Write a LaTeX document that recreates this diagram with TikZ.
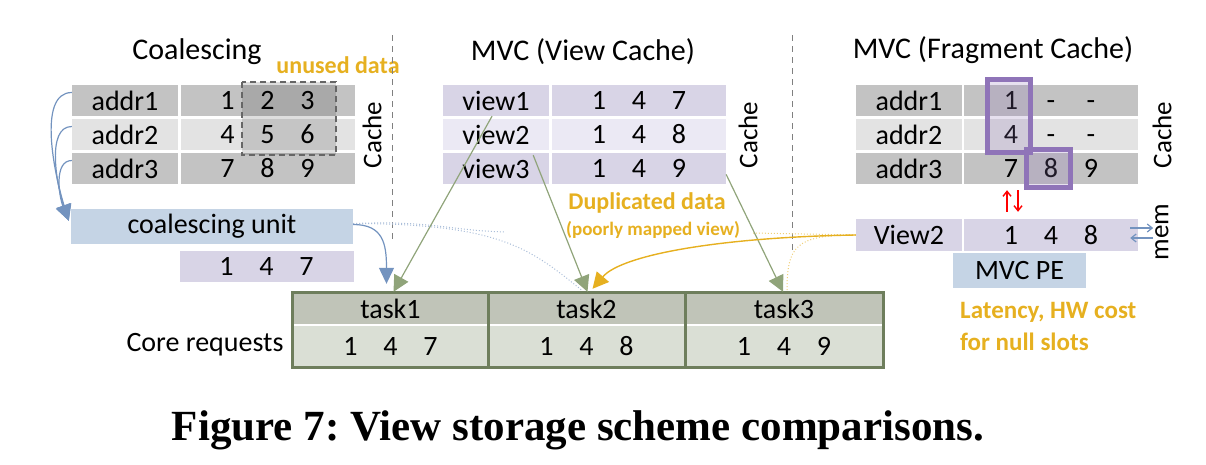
\documentclass[tikz,border=0pt]{standalone}
\usepackage{fontspec}
\setmainfont{Carlito}
\newfontfamily\capfont{Liberation Serif}
\usetikzlibrary{arrows.meta}
\frenchspacing

\definecolor{cgray}{HTML}{C3C3C3}
\definecolor{clgray}{HTML}{E3E3E3}
\definecolor{clav}{HTML}{D8D4E6}
\definecolor{cllav}{HTML}{EBE9F4}
\definecolor{cblue}{HTML}{C5D4E5}
\definecolor{ctaskh}{HTML}{C0C4B8}
\definecolor{ctaskv}{HTML}{DADFD5}
\definecolor{ctaskb}{HTML}{6E7E5C}
\definecolor{corange}{HTML}{E6B020}
\definecolor{cgreen}{HTML}{90A47A}
\definecolor{carrow}{HTML}{7393BF}
\definecolor{cpurple}{HTML}{8F74B8}

\newcommand{\cellvals}[3]{\makebox[40pt]{#1}\makebox[40pt]{#2}\makebox[40pt]{#3}}

\begin{document}
\begin{tikzpicture}[x=1pt, y=-1pt,
    every node/.style={font=\fontsize{28}{32}\selectfont, inner sep=0pt},
    keycell/.style={minimum width=106pt, minimum height=31pt},
    valcell/.style={minimum width=174pt, minimum height=31pt},
    title/.style={font=\fontsize{30}{34}\selectfont},
    side/.style={rotate=90, font=\fontsize{27}{30}\selectfont},
    note/.style={text=corange, font=\bfseries\fontsize{24}{32}\selectfont},
    greenarr/.style={cgreen, line width=1.2pt, -{Triangle[length=16pt,width=16pt]}},
    bluearr/.style={carrow, line width=1.2pt, -{Triangle[length=16pt,width=15pt]}},
    orangearr/.style={corange, line width=1.4pt, -{Triangle[length=16pt,width=16pt]}},
    bluedot/.style={draw=carrow!60, dotted, line width=1pt},
    orangedot/.style={draw=corange!60, dotted, line width=1pt},
    redarr/.style={red, line width=1.4pt, -{Straight Barb[length=5pt,width=8pt]}},
    smallarr/.style={carrow, line width=1.2pt, -{Straight Barb[length=5pt,width=8pt]}},
    sep/.style={gray, line width=1pt, dash pattern=on 6pt off 5pt}]
    \useasboundingbox (0,0) rectangle (1206,464);

    % Coalescing
    \node[title] (ctitle) at (197,52) {Coalescing};
    \node[keycell, fill=cgray] (a1k) at (125,100.5) {addr1};
    \node[valcell, fill=cgray] (a1v) at (267.5,100.5) {\cellvals{1}{2}{3}};
    \node[keycell, fill=clgray] (a2k) at (125,134.5) {addr2};
    \node[valcell, fill=clgray] (a2v) at (267.5,134.5) {\cellvals{4}{5}{6}};
    \node[keycell, fill=cgray] (a3k) at (125,168.5) {addr3};
    \node[valcell, fill=cgray] (a3v) at (267.5,168.5) {\cellvals{7}{8}{9}};
    \draw[gray!80!black, line width=2pt, dash pattern=on 6pt off 4pt, fill=black, fill opacity=.13] (242,82) rectangle (336,155);
    \node[note] (unused) at (338,65) {unused data};
    \node[side] (ccache) at (372,135) {Cache};
    \node[minimum width=282pt, minimum height=35pt, fill=cblue] (cu) at (212,226.5) {coalescing unit};
    \node[valcell, fill=clav] (cout) at (266.5,266.5) {\cellvals{1}{4}{7}};
    \draw[bluearr] ([yshift=8pt]a1k.west) .. controls +(-35,0) and +(-14,-45) .. ([xshift=-2pt,yshift=-12pt]cu.north west);
    \draw[bluearr] ([yshift=8pt]a2k.west) .. controls +(-26,0) and +(-12,-35) .. ([xshift=-2pt,yshift=-12pt]cu.north west);
    \draw[bluearr] ([yshift=8pt]a3k.west) .. controls +(-18,0) and +(-10,-25) .. ([xshift=-2pt,yshift=-12pt]cu.north west);
    \draw[sep] (392,35) -- (392,243);

    % MVC (View Cache)
    \node[title] (vtitle) at (583,52) {MVC (View Cache)};
    \node[keycell, fill=clav] (v1k) at (496,100.5) {view1};
    \node[valcell, fill=clav] (v1v) at (639,100.5) {\cellvals{1}{4}{7}};
    \node[keycell, fill=cllav] (v2k) at (496,134.5) {view2};
    \node[valcell, fill=cllav] (v2v) at (639,134.5) {\cellvals{1}{4}{8}};
    \node[keycell, fill=clav] (v3k) at (496,168.5) {view3};
    \node[valcell, fill=clav] (v3v) at (639,168.5) {\cellvals{1}{4}{9}};
    \node[side] (vcache) at (748,135) {Cache};
    \node[note] (dup) at (647,203) {Duplicated data};
    \node[note, font=\bfseries\fontsize{19}{22}\selectfont] (dupsub) at (653,230) {(poorly mapped view)};
    \draw[sep] (792,35) -- (792,253);

    % MVC (Fragment Cache)
    \node[title] (ftitle) at (993,50) {MVC (Fragment Cache)};
    \node[keycell, fill=cgray] (f1k) at (909,100.5) {addr1};
    \node[valcell, fill=cgray] (f1v) at (1051,100.5) {\cellvals{1}{-}{-}};
    \node[keycell, fill=clgray] (f2k) at (909,134.5) {addr2};
    \node[valcell, fill=clgray] (f2v) at (1051,134.5) {\cellvals{4}{-}{-}};
    \node[keycell, fill=cgray] (f3k) at (909,168.5) {addr3};
    \node[valcell, fill=cgray] (f3v) at (1051,168.5) {\cellvals{7}{8}{9}};
    \draw[cpurple, line width=5pt, fill=cpurple, fill opacity=.22] (987.5,79.5) rectangle (1030.5,152.5);
    \draw[cpurple, line width=5pt, fill=cpurple, fill opacity=.22] (1026.5,149.5) rectangle (1070.5,187.5);
    \node[side] (fcache) at (1162,135) {Cache};
    \node[keycell, minimum height=32pt, fill=clav] (fk) at (909,235) {View2};
    \node[valcell, minimum height=32pt, fill=clav] (fv) at (1051,235) {\cellvals{1}{4}{8}};
    \node[side] (mem) at (1162,232) {mem};
    \node[minimum width=133pt, minimum height=35pt, fill=cblue] (pe) at (1019.5,270.5) {MVC PE};
    \node[note, align=left, anchor=west, font=\bfseries\fontsize{25}{32}\selectfont] (lat) at (960,326) {Latency, HW cost\\for null slots};
    \draw[redarr] ([xshift=-44pt,yshift=7pt]fv.north) -- ([xshift=-44pt,yshift=-6pt]f3v.south);
    \draw[redarr] ([xshift=-33pt,yshift=-6pt]f3v.south) -- ([xshift=-33pt,yshift=7pt]fv.north);
    \draw[smallarr] ([xshift=-8pt,yshift=7pt]fv.east) -- ([xshift=-2pt,yshift=4pt]mem.north);
    \draw[smallarr] ([xshift=-2pt,yshift=-6pt]mem.north) -- ([xshift=-8pt,yshift=-3pt]fv.east);

    % Core requests
    \node (core) at (205,345) {Core requests};
    \node[minimum width=195pt, minimum height=31pt, fill=ctaskh] (t1) at (390.5,308.5) {task1};
    \node[minimum width=197pt, minimum height=31pt, fill=ctaskh] (t2) at (586.5,308.5) {task2};
    \node[minimum width=198pt, minimum height=31pt, fill=ctaskh] (t3) at (784,308.5) {task3};
    \node[minimum width=195pt, minimum height=41pt, fill=ctaskv] (t1v) at (390.5,346.5) {\cellvals{1}{4}{7}};
    \node[minimum width=197pt, minimum height=41pt, fill=ctaskv] (t2v) at (586.5,346.5) {\cellvals{1}{4}{8}};
    \node[minimum width=198pt, minimum height=41pt, fill=ctaskv] (t3v) at (784,346.5) {\cellvals{1}{4}{9}};
    \draw[ctaskb, line width=3pt] (t1.north west) rectangle (t3v.south east);
    \draw[ctaskb, line width=3pt] (t1.north east) -- (t1v.south east);
    \draw[ctaskb, line width=3pt] (t2.north east) -- (t2v.south east);

    % Requests to tasks
    \coordinate (cufade) at (505,232);
    \coordinate (fvfade) at (753,233);
    \draw[bluedot] ([yshift=3pt]cu.east) .. controls +(80,-3) and +(-60,-2) .. (cufade);
    \draw[bluedot] ([yshift=3pt]cu.east) .. controls +(150,0) and +(-50,-40) .. ([xshift=-4pt,yshift=2pt]t2.north);
    \draw[orangedot] (fk.west) -- (fvfade);
    \draw[orangedot] (fk.west) .. controls +(-60,0) and +(0,-45) .. ([xshift=3pt,yshift=2pt]t3.north);
    \draw[bluearr] ([yshift=2pt]cu.east) .. controls +(30,0) and +(0,-40) .. ([xshift=-4pt,yshift=9pt]t1.north);
    \draw[greenarr] ([xshift=-4pt]v1k.south) -- ([xshift=3pt,yshift=1pt]t1.north);
    \draw[greenarr] ([xshift=-16pt,yshift=-5pt]v2k.south east) -- ([xshift=1pt,yshift=1pt]t2.north);
    \draw[greenarr] ([yshift=-6pt]v3v.east) -- ([xshift=-1pt,yshift=1pt]t3.north);
    \draw[orangearr] (fk.west) .. controls +(-130,2) and +(30,-35) .. ([xshift=6pt,yshift=4pt]t2.north);

    % Caption
    \node[anchor=base, font=\capfont\bfseries\fontsize{43}{46}\selectfont] (cap) at (578,440) {Figure 7: View storage scheme comparisons.};
\end{tikzpicture}
\end{document}
